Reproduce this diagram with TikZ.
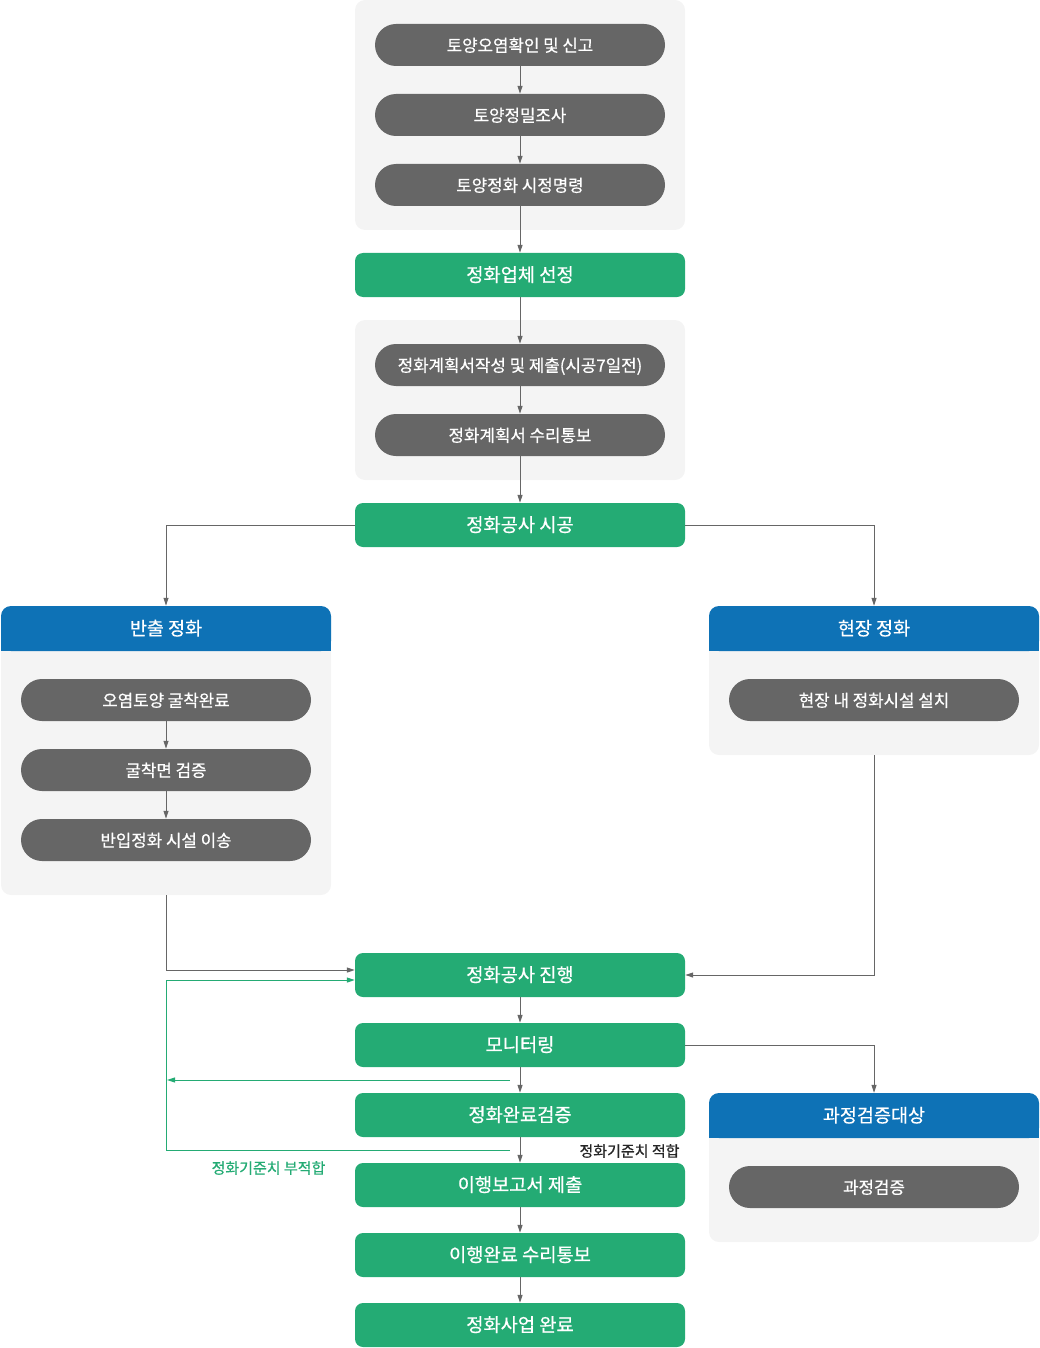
\documentclass[tikz,border=0pt]{standalone}
\usepackage{fontspec}
\setmainfont{Noto Sans CJK KR}[BoldFont={Noto Sans CJK KR}, BoldFeatures={FakeBold=0.6}]
\usetikzlibrary{arrows.meta}
\definecolor{gbox}{HTML}{24AB74}
\definecolor{hblue}{HTML}{0E72B6}
\definecolor{pillgray}{HTML}{666666}
\definecolor{bggray}{HTML}{F4F4F4}
\definecolor{linegray}{HTML}{666666}
\tikzset{
  bgbox/.style={fill=bggray, rounded corners=10pt, minimum width=330pt, inner sep=0pt},
  txt/.style={text height=1.33em, text depth=0pt},
  pill/.style={fill=pillgray, text=white, rounded corners=21pt, minimum width=290pt, minimum height=42pt, inner sep=0pt, font=\fontsize{16.8pt}{19pt}\selectfont\bfseries, txt},
  greenbox/.style={fill=gbox, text=white, rounded corners=8pt, minimum width=330pt, minimum height=44pt, inner sep=0pt, font=\fontsize{18.7pt}{21pt}\selectfont\bfseries, txt},
  header/.style={fill=hblue, rounded corners=10pt, minimum width=330pt, minimum height=45pt, inner sep=0pt},
  htext/.style={text=white, inner sep=0pt, font=\fontsize{18.5pt}{21pt}\selectfont\bfseries, txt},
  arr/.style={draw=linegray, line width=1pt, -{Triangle[length=8pt,width=5pt]}},
  garr/.style={draw=gbox, line width=1pt, -{Triangle[length=8pt,width=5pt]}},
  lbl/.style={font=\fontsize{15pt}{17pt}\selectfont\bfseries, text=black!85, inner sep=0pt, txt},
  glbl/.style={font=\fontsize{15pt}{17pt}\selectfont\bfseries, text=gbox, inner sep=0pt, txt},
}
\begin{document}
\begin{tikzpicture}[x=1pt,y=-1pt]
\useasboundingbox (0,0) rectangle (1039,1348);
% background panels
\node[bgbox, minimum height=230pt] (bg1) at (520,115) {};
\node[bgbox, minimum height=160pt] (bg2) at (520,400) {};
\node[bgbox, minimum height=289pt] (bgl) at (166,750.5) {};
\node[bgbox, minimum height=149pt] (bgr) at (874,680.5) {};
\node[bgbox, minimum height=149pt] (bgv) at (874,1167.5) {};
% headers
\node[header] (hl) at (166,628.5) {};
\fill[hblue] (hl.south west) rectangle ([yshift=10pt]hl.south east);
\node[htext] (hlt) at (hl.center) {반출 정화};
\node[header] (hr) at (874,628.5) {};
\fill[hblue] (hr.south west) rectangle ([yshift=10pt]hr.south east);
\node[htext] (hrt) at (hr.center) {현장 정화};
\node[header] (hv) at (874,1115.5) {};
\fill[hblue] (hv.south west) rectangle ([yshift=10pt]hv.south east);
\node[htext] (hvt) at (hv.center) {과정검증대상};
% pills
\node[pill] (p1) at (520,45) {토양오염확인 및 신고};
\node[pill] (p2) at (520,115) {토양정밀조사};
\node[pill] (p3) at (520,185) {토양정화 시정명령};
\node[pill] (p4) at (520,365) {정화계획서작성 및 제출(시공7일전)};
\node[pill] (p5) at (520,435) {정화계획서 수리통보};
\node[pill] (l1) at (166,700) {오염토양 굴착완료};
\node[pill] (l2) at (166,770) {굴착면 검증};
\node[pill] (l3) at (166,840) {반입정화 시설 이송};
\node[pill] (r1) at (874,700) {현장 내 정화시설 설치};
\node[pill] (v1) at (874,1187) {과정검증};
% green boxes
\node[greenbox] (g1) at (520,275) {정화업체 선정};
\node[greenbox] (g2) at (520,525) {정화공사 시공};
\node[greenbox] (g3) at (520,975) {정화공사 진행};
\node[greenbox] (g4) at (520,1045) {모니터링};
\node[greenbox] (g5) at (520,1115) {정화완료검증};
\node[greenbox] (g6) at (520,1185) {이행보고서 제출};
\node[greenbox] (g7) at (520,1255) {이행완료 수리통보};
\node[greenbox] (g8) at (520,1325) {정화사업 완료};
% labels
\node[lbl] (lok) at (629.5,1150) {정화기준치 적합};
\node[glbl] (lng) at (268.5,1167) {정화기준치 부적합};
% connectors
\draw[arr] (p1) -- (p2);
\draw[arr] (p2) -- (p3);
\draw[arr] (p3) -- (g1);
\draw[arr] (g1) -- (p4);
\draw[arr] (p4) -- (p5);
\draw[arr] (p5) -- (g2);
\draw[arr] (g2.west) -| (hl.north);
\draw[arr] (g2.east) -| (hr.north);
\draw[arr] (l1) -- (l2);
\draw[arr] (l2) -- (l3);
\draw[arr] (bgl.south) |- ([yshift=5pt]g3.west);
\draw[arr] (bgr.south) |- (g3.east);
\draw[arr] (g3) -- (g4);
\draw[arr] (g4) -- (g5);
\draw[arr] (g5) -- (g6);
\draw[arr] (g6) -- (g7);
\draw[arr] (g7) -- (g8);
\draw[arr] (g4.east) -| (hv.north);
% green feedback lines
\coordinate (f1) at (510,1150);
\coordinate (loopc) at (166,980);
\draw[garr] (f1) -| (loopc) -- ([yshift=-5pt]g3.west);
\coordinate (f2) at (510,1080);
\coordinate (f2end) at (167,1080);
\draw[garr] (f2) -- (f2end);
\end{tikzpicture}
\end{document}
